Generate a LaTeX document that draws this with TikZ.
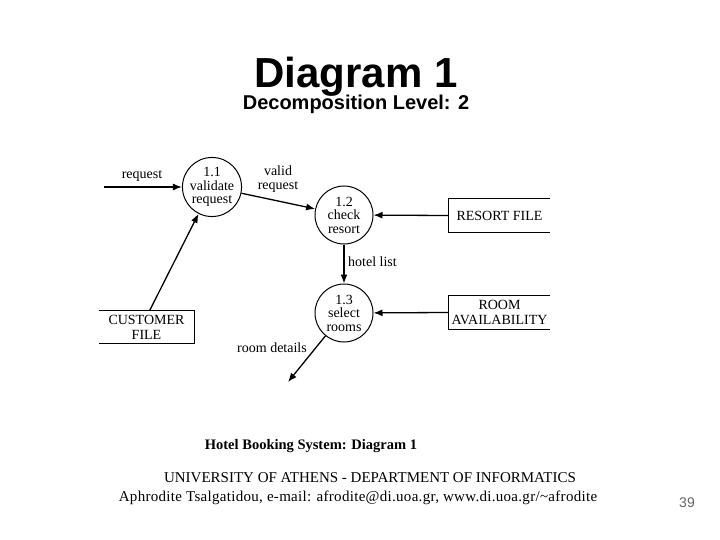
\documentclass[tikz,border=0pt]{standalone}
\usepackage{fontspec}
\setmainfont{Liberation Serif}
\newfontfamily\arialfont{Liberation Sans}
\newfontfamily\widefont[LetterSpace=2]{Liberation Serif}
\usetikzlibrary{arrows.meta,positioning}

\begin{document}
\begin{tikzpicture}[x=1pt, y=-1pt,
		process/.style={circle, draw, line width=1pt, minimum size=58pt, inner sep=0pt,
			align=center, font=\fontsize{14}{13.5}\selectfont},
		store/.style={minimum height=33pt, inner sep=0pt, align=center,
			font=\fontsize{14}{15}\selectfont},
		flow/.style={-{Latex[length=9pt, width=7pt]}, line width=1.3pt},
		lbl/.style={font=\fontsize{14}{14}\selectfont, align=center, inner sep=0pt}]
		\useasboundingbox (0,0) rectangle (720,540);
		% 标题
		\node[anchor=base, font=\arialfont\bfseries\fontsize{42}{46}\selectfont] (title) at (356,88) {Diagram 1};
		\node[anchor=base, font=\arialfont\bfseries\fontsize{20}{24}\selectfont] (subtitle) at (356,110) {Decomposition Level: 2};
		% 处理过程
		\node[process] (p11) at (212,187) {1.1\\validate\\request};
		\node[process] (p12) at (344,215) {1.2\\check\\resort};
		\node[process] (p13) at (344,313) {1.3\\select\\rooms};
		% 数据存储
		\node[store, minimum width=101pt] (resort) at (499.5,215.5) {RESORT FILE};
		\node[store, minimum width=101pt] (avail) at (499.5,312.5) {ROOM\\AVAILABILITY};
		\node[store, minimum width=95pt, minimum height=32pt] (cust) at (146.5,327) {CUSTOMER\\FILE};
		\draw[line width=1pt] (resort.north east)--(resort.north west)--(resort.south west)--(resort.south east);
		\draw[line width=1pt] (avail.north east)--(avail.north west)--(avail.south west)--(avail.south east);
		\draw[line width=1pt] (cust.north west)--(cust.north east)--(cust.south east)--(cust.south west);
		% 外部端点
		\coordinate (req) at (104,187);
		\coordinate (out) at (288,382);
		% 数据流
		\draw[flow] (req)--(p11);
		\draw[flow] ([xshift=3pt]cust.north)--(p11);
		\draw[flow] (p11)--(p12);
		\draw[flow] (resort.west)--(p12);
		\draw[flow] (p12)--(p13);
		\draw[flow] (avail.west)--(p13);
		\draw[flow] (p13)--(out);
		% 数据流标签
		\node[lbl] (lreq) at (142,176) {request};
		\node[lbl] (lvalid) at (278,179) {valid\\request};
		\node[lbl, anchor=west] (lhotel) at (348,262) {hotel list};
		\node[lbl] (lroom) at (272,348) {room details};
		% 图注与页脚
		\node[font=\bfseries\fontsize{14.5}{16}\selectfont] (caption) at (311,446) {Hotel Booking System: Diagram 1};
		\node[font=\fontsize{15}{17}\selectfont] (uni) at (370,478) {UNIVERSITY OF ATHENS - DEPARTMENT OF INFORMATICS};
		\node[font=\widefont\fontsize{15}{17}\selectfont] (author) at (358,498) {Aphrodite Tsalgatidou, e-mail: afrodite@di.uoa.gr, www.di.uoa.gr/\textasciitilde afrodite};
		\node[font=\arialfont\fontsize{14}{16}\selectfont, text=black!60] (page) at (687,503) {39};
	\end{tikzpicture}
\end{document}
